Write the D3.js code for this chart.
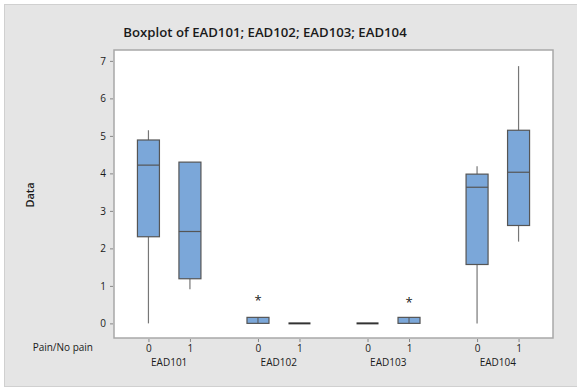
<!DOCTYPE html>
<html lang="en">
<head>
<meta charset="UTF-8">
<script src="https://d3js.org/d3.v7.min.js"></script>
<style>
  body { margin: 0; background: #fff; }
  text { font-family: "Open Sans", sans-serif; fill: #1a1a1a; }
</style>
</head>
<body>
<svg id="chart" width="577" height="388"></svg>
<script>
// data
const groups = ["EAD101", "EAD102", "EAD103", "EAD104"];
const levels = ["0", "1"];
const whiskerLow  = [0, 0.91, 0, 0, 0, 0, 0, 2.18];
const q1          = [2.31, 1.19, 0, 0, 0, 0, 1.57, 2.61];
const medians     = [4.22, 2.45, 0, 0, 0, 0, 3.63, 4.03];
const q3          = [4.89, 4.30, 0.16, 0, 0, 0.16, 3.98, 5.15];
const whiskerHigh = [5.15, 4.30, 0.16, 0, 0, 0.16, 4.19, 6.86];
const outliers = [{ i: 2, v: 0.64 }, { i: 5, v: 0.6 }];
const yTicks = [0, 1, 2, 3, 4, 5, 6, 7];

const svg = d3.select("#chart");
const plot = { left: 114, top: 50, right: 553, bottom: 338 };
const groupGap = 2.64;

const boxes = [];
groups.forEach((g, gi) => levels.forEach((l, li) => {
  const i = gi * 2 + li;
  boxes.push({ group: g, level: l, pos: gi * groupGap + li, lo: whiskerLow[i], q1: q1[i], med: medians[i], q3: q3[i], hi: whiskerHigh[i] });
}));

const x = d3.scaleLinear().domain([-0.83, 3 * groupGap + 1.83]).range([plot.left, plot.right]);
const y = d3.scaleLinear().domain([-0.39, 7.29]).range([plot.bottom, plot.top]);

// outer panel
svg.append("rect").attr("x", 4.5).attr("y", 4.5).attr("width", 580).attr("height", 382)
  .attr("fill", "#e5e5e5").attr("stroke", "#d0d0d0");
svg.append("rect").attr("x", plot.left).attr("y", plot.top)
  .attr("width", plot.right - plot.left).attr("height", plot.bottom - plot.top)
  .attr("fill", "#fff").attr("stroke", "#a8a8a8").attr("stroke-width", 1.5);

svg.append("text").attr("x", 265).attr("y", 37).attr("text-anchor", "middle")
  .style("font-size", "13.2px").style("font-weight", 600)
  .text("Boxplot of EAD101; EAD102; EAD103; EAD104");

// y axis
const yAxis = svg.append("g").attr("transform", `translate(${plot.left - 1},0)`)
  .call(d3.axisLeft(y).tickValues(yTicks).tickSize(3).tickPadding(4));
yAxis.select(".domain").remove();
yAxis.selectAll("line").attr("stroke", "#888");
yAxis.selectAll("text").style("font-size", "10px").style("font-family", "Open Sans, sans-serif").attr("fill", "#1a1a1a");

svg.append("text").attr("transform", "translate(34,195) rotate(-90)").attr("text-anchor", "middle")
  .style("font-size", "11px").style("font-weight", 600).text("Data");

// x axis
const xAxis = svg.append("g").attr("transform", `translate(0,${plot.bottom + 1})`)
  .call(d3.axisBottom(x).tickValues(boxes.map(d => d.pos)).tickFormat((d, i) => boxes[i].level).tickSize(3).tickPadding(3));
xAxis.select(".domain").remove();
xAxis.selectAll("line").attr("stroke", "#888");
xAxis.selectAll("text").style("font-size", "10px").style("font-family", "Open Sans, sans-serif").attr("fill", "#1a1a1a");

svg.append("text").attr("x", 93).attr("y", 351).attr("text-anchor", "end")
  .style("font-size", "10px").text("Pain/No pain");
svg.selectAll("text.grp").data(groups).join("text").attr("class", "grp")
  .attr("x", (d, i) => x(i * groupGap + 0.5)).attr("y", 366).attr("text-anchor", "middle")
  .style("font-size", "10px").text(d => d);

// boxes
const bw = 11;
const b = svg.append("g").selectAll("g").data(boxes).join("g");
b.filter(d => d.hi > d.q3).append("line")
  .attr("x1", d => x(d.pos)).attr("x2", d => x(d.pos))
  .attr("y1", d => y(d.q3)).attr("y2", d => y(d.hi)).attr("stroke", "#777").attr("stroke-width", 1.2);
b.filter(d => d.lo < d.q1).append("line")
  .attr("x1", d => x(d.pos)).attr("x2", d => x(d.pos))
  .attr("y1", d => y(d.q1)).attr("y2", d => y(d.lo)).attr("stroke", "#777").attr("stroke-width", 1.2);
b.filter(d => d.q3 > d.q1).append("rect")
  .attr("x", d => x(d.pos) - bw).attr("width", 2 * bw)
  .attr("y", d => y(d.q3)).attr("height", d => y(d.q1) - y(d.q3))
  .attr("fill", "#7ba7d9").attr("stroke", "#555").attr("stroke-width", 1.2);
b.filter(d => d.q3 > d.q1 && d.med > d.q1).append("line")
  .attr("x1", d => x(d.pos) - bw).attr("x2", d => x(d.pos) + bw)
  .attr("y1", d => y(d.med)).attr("y2", d => y(d.med)).attr("stroke", "#555").attr("stroke-width", 1.2);
// flat boxes: median at Q1, center line through box
b.filter(d => d.q3 > d.q1 && d.med === d.q1).append("line")
  .attr("x1", d => x(d.pos)).attr("x2", d => x(d.pos))
  .attr("y1", d => y(d.q3)).attr("y2", d => y(d.q1)).attr("stroke", "#555").attr("stroke-width", 1);
// collapsed boxes
b.filter(d => d.q3 === d.q1).append("line")
  .attr("x1", d => x(d.pos) - bw).attr("x2", d => x(d.pos) + bw)
  .attr("y1", d => y(d.q1)).attr("y2", d => y(d.q1)).attr("stroke", "#333").attr("stroke-width", 2);

svg.selectAll("text.out").data(outliers).join("text").attr("class", "out")
  .attr("x", d => x(boxes[d.i].pos)).attr("y", d => y(d.v) + 6).attr("text-anchor", "middle")
  .style("font-size", "13px").attr("fill", "#555").text("*");
</script>
</body>
</html>
